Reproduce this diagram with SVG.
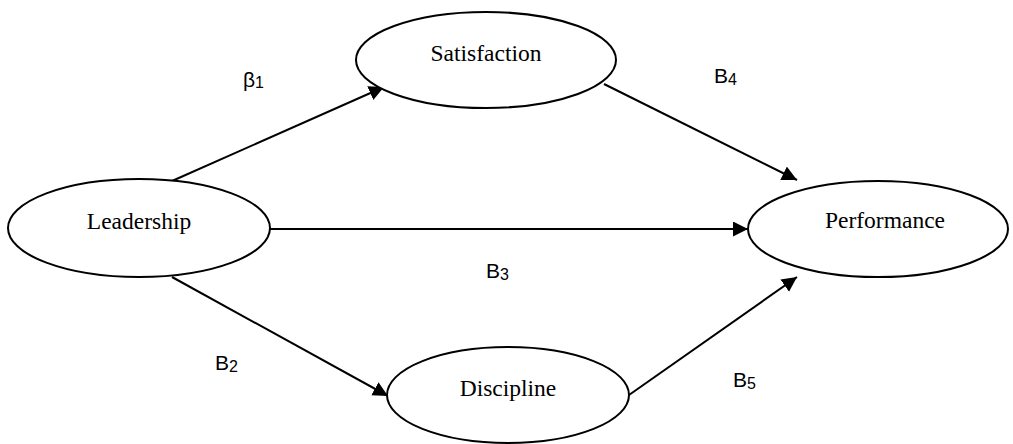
<svg xmlns="http://www.w3.org/2000/svg" width="1013" height="444" viewBox="0 0 1013 444">
<style>
.node ellipse{fill:#fff;stroke:#000;stroke-width:2}
.node text{font-family:"Liberation Serif","Times New Roman",serif;font-size:23.5px;fill:#000;text-anchor:middle}
.edge line{stroke:#000;stroke-width:2;marker-end:url(#arr)}
.lbl{font-family:"Liberation Sans",Arial,sans-serif;font-size:21px;fill:#000}
.sub{font-size:16px}
</style>
<defs>
<marker id="arr" markerUnits="userSpaceOnUse" markerWidth="16" markerHeight="16" refX="15" refY="7.5" orient="auto" viewBox="0 0 16 16">
<path d="M0,0 L15,7.5 L0,15 z" fill="#000"/>
</marker>
</defs>
<rect width="1013" height="444" fill="#fff"/>
<g id="connectors" class="edge">
<line x1="172" y1="181" x2="384" y2="87"/>
<line x1="604" y1="84" x2="797" y2="180"/>
<line x1="269" y1="229" x2="748" y2="229"/>
<line x1="172" y1="277" x2="388" y2="396"/>
<line x1="629" y1="395" x2="797" y2="277"/>
</g>
<g id="leadership" class="node"><ellipse cx="139" cy="228" rx="131" ry="49"/><text x="139" y="229">Leadership</text></g>
<g id="satisfaction" class="node"><ellipse cx="486" cy="60" rx="130" ry="48"/><text x="486" y="61">Satisfaction</text></g>
<g id="performance" class="node"><ellipse cx="878" cy="229" rx="130" ry="48"/><text x="885" y="228">Performance</text></g>
<g id="discipline" class="node"><ellipse cx="508" cy="395" rx="121" ry="48"/><text x="508" y="396">Discipline</text></g>
<g id="labels">
<text class="lbl" x="243" y="87">β<tspan class="sub" dy="1">1</tspan></text>
<text class="lbl" x="714" y="83">B<tspan class="sub" dy="2">4</tspan></text>
<text class="lbl" x="486" y="278">B<tspan class="sub" dy="2">3</tspan></text>
<text class="lbl" x="215" y="370">B<tspan class="sub" dy="2">2</tspan></text>
<text class="lbl" x="733" y="387">B<tspan class="sub" dy="2">5</tspan></text>
</g>
</svg>
